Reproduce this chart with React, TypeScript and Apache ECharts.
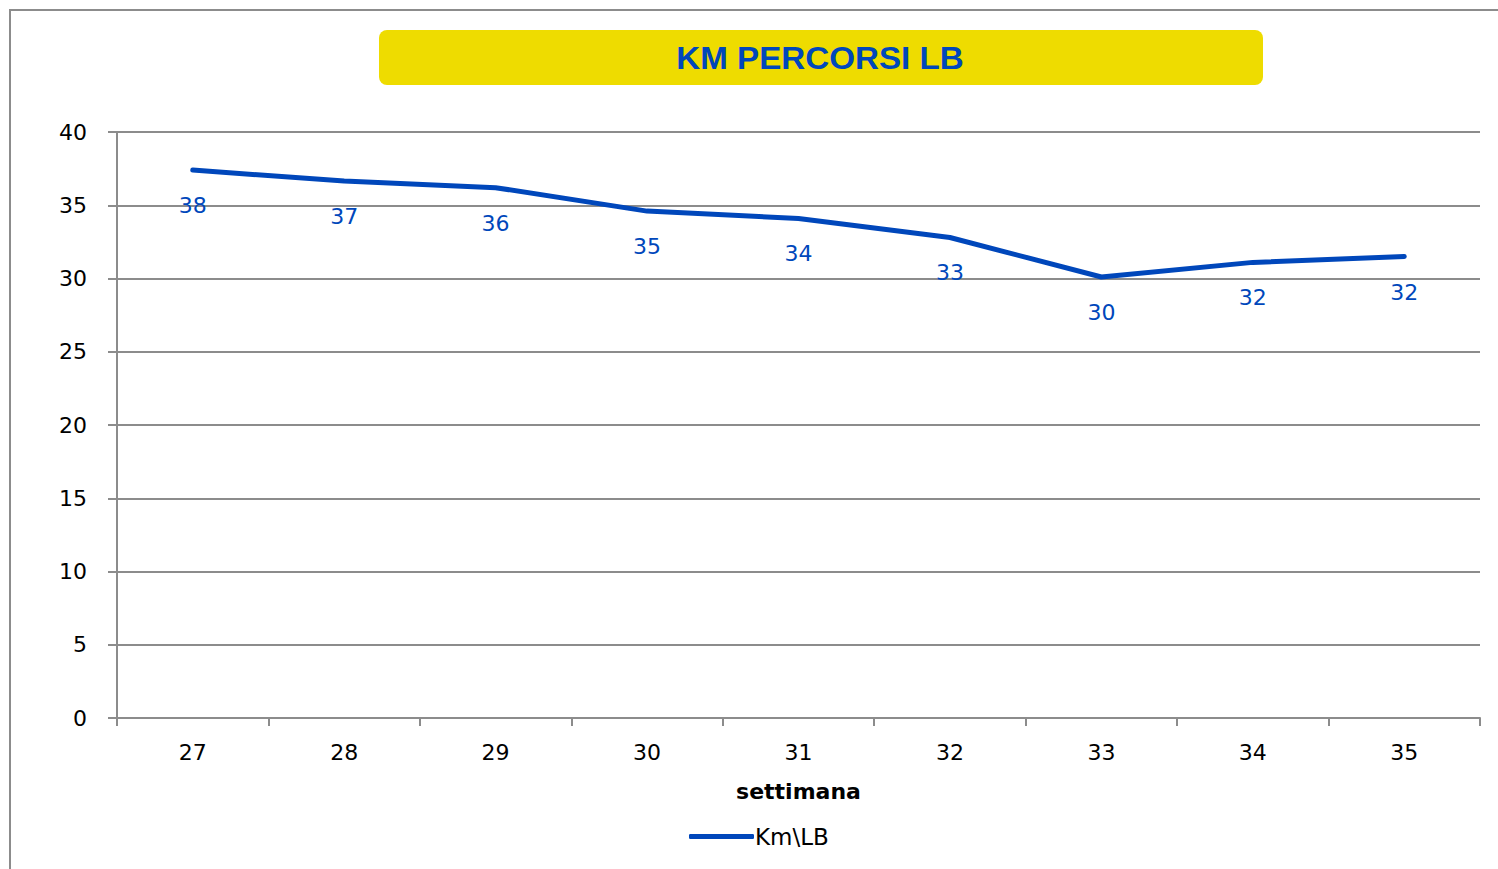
import React, { useEffect, useRef } from "react";
import * as echarts from "echarts";

const categories = ["27", "28", "29", "30", "31", "32", "33", "34", "35"];
const kmValues = [37.4, 36.65, 36.2, 34.6, 34.1, 32.8, 30.1, 31.1, 31.5];
const kmLabels = ["38", "37", "36", "35", "34", "33", "30", "32", "32"];
const seriesName = "Km\\LB";
const titleText = "KM PERCORSI LB";
const xAxisName = "settimana";

const BLUE = "#0047BB";
const GREY = "#8c8c8c";
const FONT = "DejaVu Sans";

export default function App() {
  const ref = useRef<HTMLDivElement>(null);
  useEffect(() => {
    if (!ref.current) return;
    const chart = echarts.init(ref.current, null, { renderer: "svg" });
    chart.setOption({
      animation: false,
      backgroundColor: "#ffffff",
      graphic: [
        {
          type: "rect",
          shape: { x: 10, y: 10, width: 1500, height: 900 },
          style: { fill: "none", stroke: GREY, lineWidth: 2 },
          silent: true,
        },
        {
          type: "rect",
          shape: { x: 379, y: 30, width: 884, height: 55, r: 8 },
          style: { fill: "#EEDC00" },
          silent: true,
        },
        {
          type: "text",
          x: 820,
          y: 58,
          scaleX: 1.07,
          style: {
            text: titleText,
            fill: BLUE,
            font: "bold 31px 'Liberation Sans', Arial, sans-serif",
            align: "center",
            verticalAlign: "middle",
          },
          silent: true,
        },
      ],
      grid: { left: 117, right: 18, top: 132, bottom: 151, containLabel: false },
      legend: {
        left: 684,
        top: 820,
        data: [seriesName],
        icon: "roundRect",
        itemWidth: 65,
        itemHeight: 5,
        itemGap: 10,
        textStyle: { fontFamily: FONT, fontSize: 23, color: "#000", padding: [0, 0, 0, -4] },
      },
      xAxis: {
        type: "category",
        data: categories,
        boundaryGap: true,
        name: xAxisName,
        nameLocation: "middle",
        nameGap: 62,
        nameTextStyle: { fontFamily: FONT, fontSize: 22, fontWeight: "bold", color: "#000" },
        axisLine: { show: true, lineStyle: { color: GREY, width: 2 } },
        axisTick: { show: true, length: 8, alignWithLabel: false, lineStyle: { color: GREY, width: 2 } },
        axisLabel: { fontFamily: FONT, fontSize: 22, color: "#000", margin: 23 },
        splitLine: { show: false },
      },
      yAxis: {
        type: "value",
        min: 0,
        max: 40,
        interval: 5,
        axisLine: { show: true, lineStyle: { color: GREY, width: 2 } },
        axisTick: { show: true, length: 9, lineStyle: { color: GREY, width: 2 } },
        axisLabel: { fontFamily: FONT, fontSize: 22, color: "#000", margin: 30 },
        splitLine: { show: true, lineStyle: { color: GREY, width: 2 } },
      },
      series: [
        {
          name: seriesName,
          type: "line",
          data: kmValues,
          showSymbol: true,
          symbol: "circle",
          symbolSize: 1,
          lineStyle: { color: BLUE, width: 5, cap: "round", join: "round" },
          itemStyle: { color: BLUE },
          label: {
            show: true,
            position: "bottom",
            distance: 24,
            fontFamily: FONT,
            fontSize: 22,
            color: BLUE,
            formatter: (p: any) => kmLabels[p.dataIndex],
          },
        },
      ],
    });
    return () => chart.dispose();
  }, []);
  return (
    <div
      ref={ref}
      style={{ position: "fixed", left: 0, top: 0, width: 1498, height: 869 }}
    />
  );
}
